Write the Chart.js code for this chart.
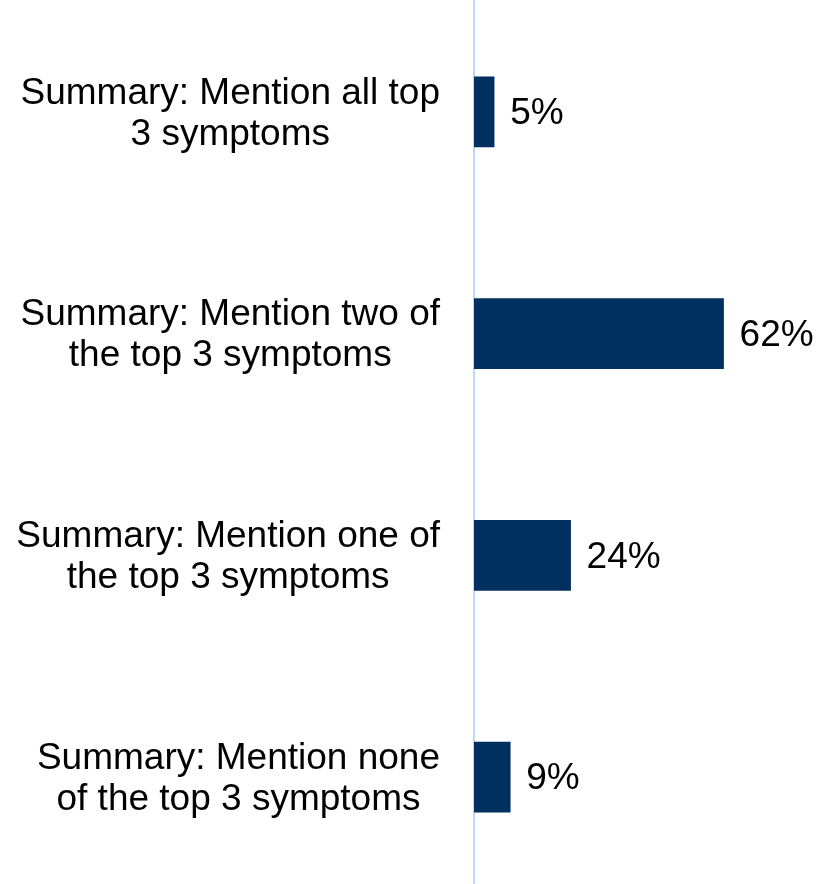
<!DOCTYPE html>
<html><head><meta charset="utf-8">
<script src="https://cdn.jsdelivr.net/npm/chart.js@4/dist/chart.umd.min.js"></script>
<style>html,body{margin:0;padding:0;background:#fff;overflow:hidden}#wrap{position:relative;width:818px;height:890px}</style>
</head><body><div id="wrap"><canvas id="c"></canvas></div>
<script>
const categories = [
  ["Summary: Mention all top", "3 symptoms"],
  ["Summary: Mention two of", "the top 3 symptoms"],
  ["Summary: Mention one of", "the top 3 symptoms"],
  ["Summary: Mention none", "of the top 3 symptoms"]
];
const values = [5, 62, 24, 9];
const valueLabels = ["5%", "62%", "24%", "9%"];

const FONT = '"Liberation Sans", Arial, sans-serif';

const labelPlugin = {
  id: 'labels',
  afterDraw(chart) {
    const ctx = chart.ctx;
    const y = chart.scales.y, x = chart.scales.x;
    ctx.save();
    ctx.font = '37px ' + FONT;
    ctx.fillStyle = '#000';
    ctx.textBaseline = 'middle';
    categories.forEach((lines, i) => {
      const cy = y.getPixelForTick(i) + 2;
      let w = 0;
      lines.forEach(l => { w = Math.max(w, ctx.measureText(l).width); });
      const cx = x.left - 34 - w / 2;
      ctx.textAlign = 'center';
      lines.forEach((l, j) => {
        ctx.fillText(l, cx, cy + (j - (lines.length - 1) / 2) * 41);
      });
    });
    const meta = chart.getDatasetMeta(0);
    ctx.textAlign = 'left';
    meta.data.forEach((bar, i) => {
      ctx.fillText(valueLabels[i], bar.x + 16, bar.y + 2);
    });
    ctx.restore();
  }
};

new Chart(document.getElementById('c'), {
  type: 'bar',
  data: {
    labels: categories,
    datasets: [{
      data: values,
      backgroundColor: '#00305f',
      barThickness: 70
    }]
  },
  options: {
    indexAxis: 'y',
    responsive: true,
    maintainAspectRatio: false,
    animation: false,
    layout: { padding: { top: 1, bottom: 2, left: 0, right: 22 } },
    plugins: { legend: { display: false }, tooltip: { enabled: false } },
    scales: {
      x: {
        min: 0, max: 80,
        display: false,
        grid: { display: false }
      },
      y: {
        ticks: { display: false },
        grid: { display: false, drawTicks: false },
        border: { display: true, color: '#bcd8f5', width: 2 },
        afterFit(s) { s.width = 474; }
      }
    }
  },
  plugins: [labelPlugin]
});
</script></body></html>
